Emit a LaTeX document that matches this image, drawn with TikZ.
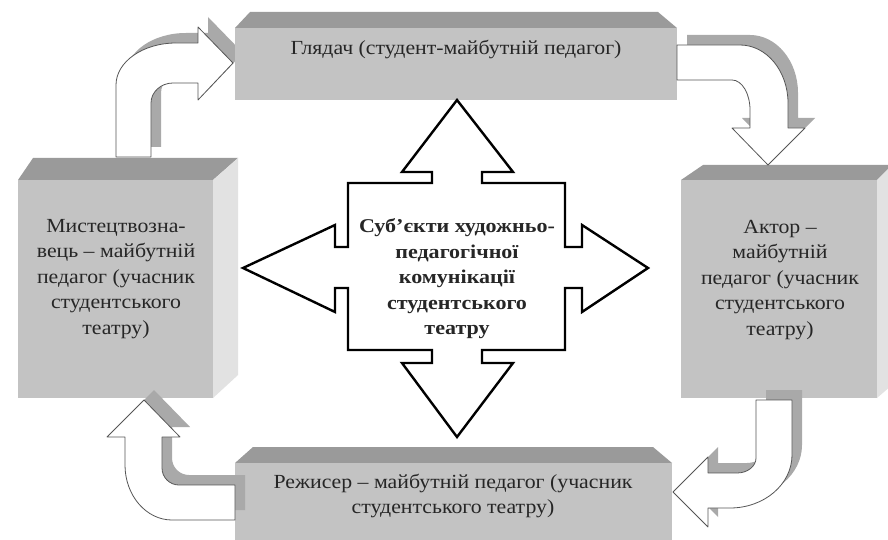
\documentclass[tikz,border=0pt]{standalone}
\usepackage{fontspec}
\setmainfont{Liberation Serif}
\newfontfamily\boxfont[FakeStretch=1.09]{Liberation Serif}
\newfontfamily\centerfont[FakeStretch=1.13]{Liberation Serif}
\definecolor{frontc}{HTML}{C3C3C3}
\definecolor{topc}{HTML}{9A9A9A}
\definecolor{sidec}{HTML}{E2E2E2}
\definecolor{shadc}{HTML}{A9A9A9}
\definecolor{linec}{HTML}{555555}
\begin{document}
\begin{tikzpicture}[x=1pt,y=-1pt,
  front/.style={fill=frontc},
  topface/.style={fill=topc},
  sideface/.style={fill=sidec},
  shad/.style={fill=shadc, shift={(10,-10)}},
  bentarrow/.style={fill=white, draw=linec, line width=0.8pt, line join=round},
  crossarrow/.style={fill=white, draw=black, line width=2.4pt, line join=miter},
  boxtext/.style={align=center, font=\boxfont\fontsize{20}{25.5}\selectfont, text=black!85, inner sep=0pt},
  centertext/.style={align=center, font=\centerfont\bfseries\fontsize{19.5}{25.5}\selectfont, text=black!85, inner sep=0pt}]
\useasboundingbox (0,0) rectangle (888,540);
\clip (0,0) rectangle (888,540);
\fill[white] (0,0) rectangle (888,540);

\def\arrowone{(116,157) -- (116,85) .. controls (116,61.8) and (142.9,43) .. (176,43) -- (198,43) -- (198,27) -- (233,63) -- (198,100) -- (198,83) -- (173,83) .. controls (160.9,83) and (151,92) .. (151,103) -- (151,157) -- cycle}
\def\arrowtwo{(677,45) -- (740,45) .. controls (766.5,45) and (788,71) .. (788,103) -- (788,128) -- (805,128) -- (768,165) -- (732,128) -- (750,128) -- (750,110) .. controls (750,93.4) and (741.9,80) .. (732,80) -- (677,80) -- cycle}
\def\arrowthree{(792,400) -- (792,455) .. controls (792,484.3) and (764.2,508) .. (730,508) -- (708,508) -- (708,527) -- (673,492) -- (708,457) -- (708,473) -- (737,473) .. controls (747.5,473) and (756,466.3) .. (756,458) -- (756,400) -- cycle}
\def\arrowfour{(235,520) -- (172,520) .. controls (146.1,520) and (125,495.4) .. (125,465) -- (125,437) -- (107,437) -- (144,400) -- (180,437) -- (162,437) -- (162,468) .. controls (162,477.4) and (169.6,485) .. (179,485) -- (235,485) -- cycle}

% shadows behind boxes
\fill[shad] \arrowone;
\fill[shad] \arrowtwo;

% top box
\fill[topface] (235,28) -- (250,12) -- (658,12) -- (677,28) -- cycle;
\fill[front] (235,28) rectangle (677,100);
% left box
\fill[topface] (18,180) -- (33,158) -- (238,158) -- (213,180) -- cycle;
\fill[sideface] (213,180) -- (238,158) -- (238,375) -- (213,398) -- cycle;
\fill[front] (18,180) rectangle (213,398);
% right box
\fill[topface] (681,180) -- (703,165) -- (892,165) -- (877,180) -- cycle;
\fill[sideface] (877,180) -- (892,165) -- (892,385) -- (877,398) -- cycle;
\fill[front] (681,180) rectangle (877,398);
% bottom box
\fill[topface] (235,463) -- (253,447) -- (653,447) -- (672,463) -- cycle;
\fill[front] (235,463) rectangle (672,560);

% shadows over boxes
\fill[shad] \arrowthree;
\fill[shad] \arrowfour;

% bent arrows
\draw[bentarrow] \arrowone;
\draw[bentarrow] \arrowtwo;
\draw[bentarrow] \arrowthree;
\draw[bentarrow] \arrowfour;

% central four-way arrow
\draw[crossarrow] (457,100) -- (513,172) -- (482,172) -- (482,183) -- (565,183) -- (565,247) -- (582,247) -- (582,225) -- (648,268) -- (582,312) -- (582,288) -- (565,288) -- (565,350) -- (482,350) -- (482,363) -- (513,363) -- (457,437) -- (402,363) -- (432,363) -- (432,350) -- (348,350) -- (348,288) -- (335,288) -- (335,312) -- (243,268) -- (335,225) -- (335,247) -- (348,247) -- (348,183) -- (432,183) -- (432,172) -- (402,172) -- cycle;

% texts
\node[boxtext] (glyadach) at (456,50) {Глядач (студент-майбутній педагог)};
\node[boxtext] (mystets) at (116,279) {Мистецтвозна-\\вець – майбутній\\педагог (учасник\\студентського\\театру)};
\node[boxtext] (aktor) at (780,280) {Актор –\\майбутній\\педагог (учасник\\студентського\\театру)};
\node[boxtext] (rezhyser) at (453,496) {Режисер – майбутній педагог (учасник\\студентського театру)};
\node[centertext] (subjekty) at (457,279) {Суб’єкти художньо-\\педагогічної\\комунікації\\студентського\\театру};
\end{tikzpicture}
\end{document}
